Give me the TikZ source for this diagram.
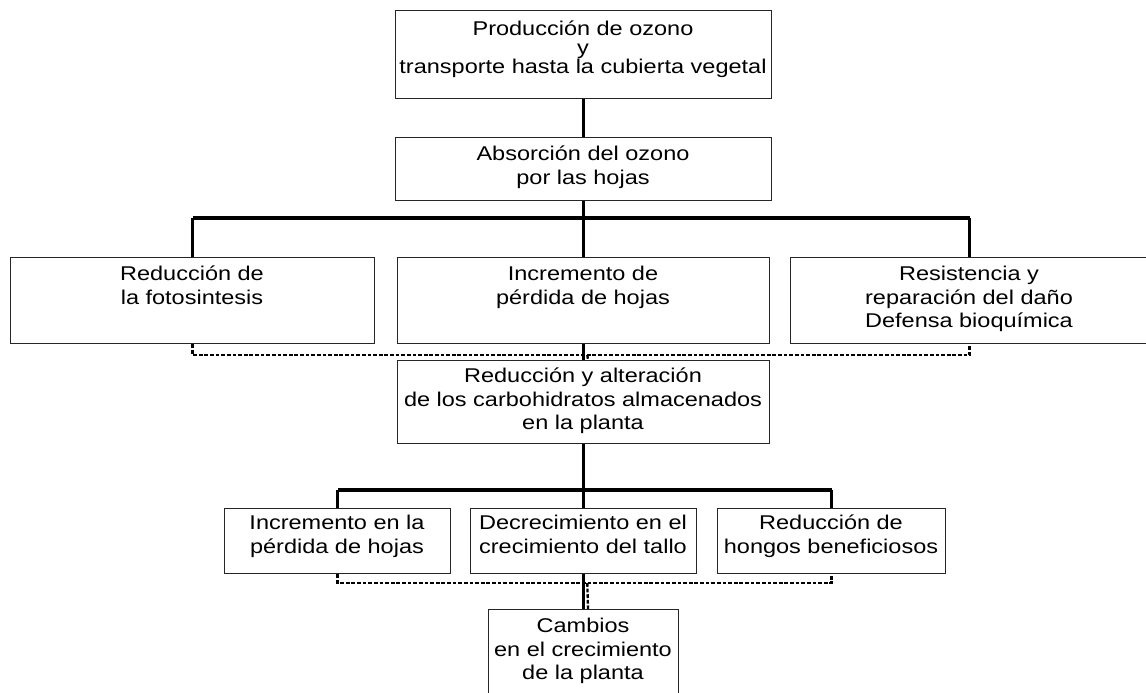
\documentclass[tikz,border=0pt]{standalone}
\usepackage{fontspec}
\setmainfont{Liberation Sans}[FakeStretch=1.18]
\begin{document}
\begin{tikzpicture}[x=0.03cm, y=-0.03cm,
    box/.style={draw=black!85, line width=1.1pt, inner sep=0pt, anchor=north west},
    boxsize/.style 2 args={minimum width=#1*0.03cm, minimum height=#2*0.03cm},
    txt/.style={anchor=north, align=center, inner sep=0pt,
      font={\fontsize{17}{20}\selectfont\lineskiplimit=-20pt}},
    bus/.style={line width=2.8pt},
    drop/.style={line width=2.2pt},
    dotbus/.style={line width=2pt, dash pattern=on 3.2pt off 1.6pt}]
    \useasboundingbox (0,0) rectangle (1146,692);

    % boxes
    \node[box, boxsize={376}{88}] (prod) at (395,10) {};
    \node[box, boxsize={376}{63}] (abs) at (395,137) {};
    \node[box, boxsize={364}{86}] (foto) at (10,257) {};
    \node[box, boxsize={372}{86}] (perd) at (397,257) {};
    \node[box, boxsize={358}{86}] (resis) at (790,257) {};
    \node[box, boxsize={372}{83}] (carb) at (397,360) {};
    \node[box, boxsize={226}{65}] (hojas) at (224,508) {};
    \node[box, boxsize={226}{65}] (tallo) at (470,508) {};
    \node[box, boxsize={228}{65}] (hongos) at (717,508) {};
    \node[box, boxsize={190}{100}] (camb) at (488,609) {};

    % texts
    \node[txt] (tprod) at (583,21) {Producción de ozono\\[-4pt]y\\[-4pt]transporte hasta la cubierta vegetal};
    \node[txt] (tabs) at (583,146) {Absorción del ozono\\por las hojas};
    \node[txt] (tfoto) at (192,266) {Reducción de\\la fotosintesis};
    \node[txt] (tperd) at (583,266) {Incremento de\\pérdida de hojas};
    \node[txt] (tresis) at (969,266) {Resistencia y\\reparación del daño\\Defensa bioquímica};
    \node[txt] (tcarb) at (583,368) {Reducción y alteración\\de los carbohidratos almacenados\\en la planta};
    \node[txt] (thojas) at (337,515) {Incremento en la\\pérdida de hojas};
    \node[txt] (ttallo) at (583,515) {Decrecimiento en el\\crecimiento del tallo};
    \node[txt] (thongos) at (831,515) {Reducción de\\hongos beneficiosos};
    \node[txt] (tcamb) at (583,618) {Cambios\\en el crecimiento\\de la planta};

    \coordinate (bus1) at (583,218);
    \coordinate (dot1) at (583,355);
    \coordinate (bus2) at (583,490);
    \coordinate (dot2) at (583,583);

    \draw[drop] (prod) -- (abs);
    \draw[drop] (abs.south) -- (perd.north);
    \draw[drop] (foto.north) -- (foto.north |- bus1);
    \draw[drop] (resis.north) -- (resis.north |- bus1);
    \draw[bus] (foto.north |- bus1) -- (resis.north |- bus1);

    \draw[dotbus] (foto.south) |- (dot1) -| (resis.south);
    \draw[dotbus] ([xshift=0.13cm]dot1) -- ([xshift=0.13cm]carb.north);
    \draw[drop] (perd.south) -- (carb.north);

    \draw[drop] (carb.south) -- (tallo.north);
    \draw[drop] (hojas.north) -- (hojas.north |- bus2);
    \draw[drop] (hongos.north) -- (hongos.north |- bus2);
    \draw[bus] (hojas.north |- bus2) -- (hongos.north |- bus2);

    \draw[dotbus] (hojas.south) |- (dot2) -| (hongos.south);
    \draw[dotbus] ([xshift=0.13cm]dot2) -- ([xshift=0.13cm]camb.north);
    \draw[drop] (tallo.south) -- (camb.north);
\end{tikzpicture}
\end{document}
